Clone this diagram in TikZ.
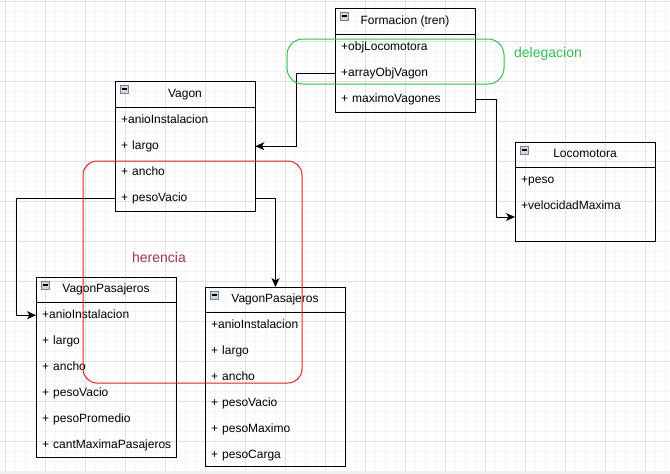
\documentclass[tikz,border=0pt]{standalone}
\usepackage{fontspec}
\setmainfont{Liberation Sans}
\usetikzlibrary{arrows.meta}
\definecolor{gridmin}{RGB}{245,245,245}
\definecolor{gridmaj}{RGB}{224,224,224}
\definecolor{grn}{RGB}{51,190,80}
\definecolor{her}{RGB}{153,51,102}
\definecolor{redl}{RGB}{230,30,40}
\definecolor{icofill}{RGB}{210,214,222}
\definecolor{icodraw}{RGB}{120,130,145}
\newcommand{\mico}[2]{%
  \draw[fill=icofill,draw=icodraw,line width=0.8pt] (#1+5,#2+4) rectangle (#1+13,#2+12);
  \draw[line width=1.4pt] (#1+6.5,#2+8) -- (#1+11.5,#2+8);}
\begin{document}
\begin{tikzpicture}[x=1pt,y=-1pt,
 box/.style={draw=black, line width=1pt, minimum width=140pt, anchor=north west, inner sep=0pt},
 titletext/.style={font=\fontsize{12}{14}\selectfont, inner sep=0pt, text height=9pt, text depth=3pt},
 row/.style={anchor=north west, text width=128pt, inner xsep=6pt, inner ysep=0pt, minimum height=26pt, align=left, font=\fontsize{12}{14}\selectfont, text height=9pt, text depth=3pt},
 conn/.style={draw=black, line width=1pt, -{Stealth[length=9pt,width=8pt,inset=2.5pt]}},
 sep/.style={draw=black, line width=1pt},
 note/.style={font=\fontsize{14}{16}\selectfont, inner sep=0pt}
]
\useasboundingbox (0,0) rectangle (670,474);
\fill[white] (0,0) rectangle (670,474);
% grid
\foreach \x in {5,15,...,665} \draw[gridmin, line width=1pt] (\x,0) -- (\x,474);
\foreach \y in {1.7,11.7,...,471} \draw[gridmin, line width=1pt] (0,\y) -- (670,\y);
\foreach \x in {5,45,...,665} \draw[gridmaj, line width=1pt] (\x,0) -- (\x,474);
\foreach \y in {1.7,41.7,...,471} \draw[gridmaj, line width=1pt] (0,\y) -- (670,\y);
\fill[black!6] (0,471) rectangle (670,474);

% Formacion
\node[box, minimum height=104pt] (F) at (335,8) {};
\draw[sep] (335,34) -- (475,34);
\mico{335}{8}
\node[titletext] (Ft) at (405,21) {Formacion (tren)};
\node[row] (f1) at (335,34) {+objLocomotora};
\node[row] (f2) at (335,60) {+arrayObjVagon};
\node[row] (f3) at (335,86) {+ maximoVagones};

% Vagon
\node[box, minimum height=130pt] (V) at (115,81) {};
\draw[sep] (115,107) -- (255,107);
\mico{115}{81}
\node[titletext] (Vt) at (185,94) {Vagon};
\node[row] (v1) at (115,107) {+anioInstalacion};
\node[row] (v2) at (115,133) {+ largo};
\node[row] (v3) at (115,159) {+ ancho};
\node[row] (v4) at (115,185) {+ pesoVacio};

% Locomotora
\node[box, minimum height=99pt] (L) at (515,142) {};
\draw[sep] (515,167) -- (655,167);
\mico{515}{142}
\node[titletext] (Lt) at (585,154.5) {Locomotora};
\node[row] (l1) at (515,167) {+peso};
\node[row] (l2) at (515,193) {+velocidadMaxima};
\coordinate (lin) at (515,217);

% VagonPasajeros left
\node[box, minimum height=180pt] (P) at (36,277) {};
\draw[sep] (36,302) -- (176,302);
\mico{36}{277}
\node[titletext] (Pt) at (106,289.5) {VagonPasajeros};
\node[row] (p1) at (36,302) {+anioInstalacion};
\node[row] (p2) at (36,328) {+ largo};
\node[row] (p3) at (36,354) {+ ancho};
\node[row] (p4) at (36,380) {+ pesoVacio};
\node[row] (p5) at (36,406) {+ pesoPromedio};
\node[row] (p6) at (36,432) {\mbox{+ cantMaximaPasajeros}};

% VagonPasajeros right
\node[box, minimum height=179pt] (Q) at (205,287) {};
\draw[sep] (205,312) -- (345,312);
\mico{205}{287}
\node[titletext] (Qt) at (275,299.5) {VagonPasajeros};
\node[row] (q1) at (205,312) {+anioInstalacion};
\node[row] (q2) at (205,338) {+ largo};
\node[row] (q3) at (205,364) {+ ancho};
\node[row] (q4) at (205,390) {+ pesoVacio};
\node[row] (q5) at (205,416) {+ pesoMaximo};
\node[row] (q6) at (205,442) {+ pesoCarga};

% connectors
\draw[conn] (f2.west) -- ++(-39,0) |- (v2.east);
\draw[conn] (f3.east) -- ++(21,0) |- (lin);
\draw[conn] (v4.west) -- ++(-99,0) |- (p1.west);
\draw[conn] (v4.east) -| (Q.north);

% groupings
\draw[redl, line width=1pt, rounded corners=14pt] (83,161) rectangle (302,383);
\draw[grn, line width=1pt, rounded corners=16pt] (287,39) rectangle (504,84);
\node[note, text=grn] (deleg) at (548,54) {delegacion};
\node[note, text=her] (heren) at (159,257) {herencia};
\end{tikzpicture}
\end{document}
